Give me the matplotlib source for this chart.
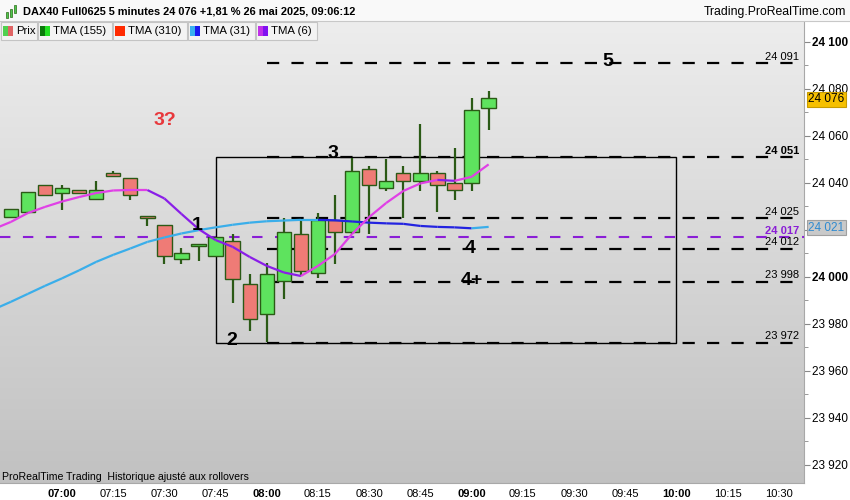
import numpy as np
import matplotlib
matplotlib.use('Agg')
import matplotlib.pyplot as plt
from matplotlib.patches import Rectangle
from matplotlib.collections import LineCollection
from matplotlib.colors import LinearSegmentedColormap

plt.rcParams['font.family'] = ['Liberation Sans', 'DejaVu Sans']

# 5 minute bars, time in minutes after 07:00
minutes = list(range(-15, 130, 5))
opens = [24025.7, 24027.8, 24039.0, 24035.9, 24036.9, 24033.1, 24044.1, 24042.0,
         24025.8, 24022.0, 24007.8, 24013.1, 24008.8, 24015.3, 23996.9, 23984.1,
         23998.2, 24018.2, 24001.8, 24024.3, 24019.0, 24045.8, 24037.7, 24044.1,
         24040.7, 24044.1, 24039.9, 24039.9, 24071.8]
highs = [24029.0, 24036.0, 24039.0, 24039.1, 24037.0, 24040.9, 24045.1, 24042.0,
         24025.8, 24022.0, 24012.2, 24013.9, 24016.9, 24018.3, 24001.3, 24005.8,
         24025.0, 24024.3, 24027.1, 24034.9, 24050.8, 24047.2, 24050.2, 24047.2,
         24065.1, 24045.1, 24054.8, 24076.0, 24079.1]
lows = [24025.5, 24027.8, 24034.8, 24028.5, 24035.8, 24033.1, 24042.9, 24032.9,
        24021.8, 24005.7, 24005.7, 24006.9, 24008.8, 23989.1, 23977.1, 23972.5,
        23990.6, 24000.4, 23999.7, 24005.7, 24018.2, 24018.2, 24036.7, 24025.0,
        24036.7, 24027.8, 24032.9, 24036.7, 24062.7]
closes = [24028.8, 24036.0, 24034.8, 24037.7, 24035.9, 24036.9, 24042.9, 24034.8,
          24025.0, 24008.8, 24010.1, 24013.9, 24016.9, 23999.0, 23982.0, 24001.1,
          24019.0, 24002.7, 24024.3, 24019.0, 24045.1, 24039.0, 24040.7, 24040.7,
          24044.1, 24039.0, 24036.9, 24070.9, 24076.0]

# moving averages
ma_minutes = list(range(-20, 130, 5))
tma6 = [24020.4, 24023.4, 24027.2, 24029.8, 24032.1, 24034.0, 24035.7, 24036.8,
        24037.0, 24037.0, 24033.4, 24026.8, 24020.4, 24015.7, 24012.8, 24008.5,
        24004.7, 24001.9, 24000.4, 24004.7, 24009.8, 24018.3, 24025.5, 24031.5,
        24036.6, 24039.8, 24041.3, 24040.9, 24042.6, 24047.9]
tma31 = [23986.2, 23989.4, 23992.8, 23996.2, 23999.4, 24002.8, 24006.4, 24009.4,
         24012.1, 24014.9, 24016.8, 24018.5, 24019.9, 24021.1, 24022.2, 24023.1,
         24023.7, 24024.0, 24024.3, 24024.3, 24024.1, 24023.6, 24023.1, 24022.8,
         24022.6, 24021.7, 24021.3, 24021.1, 24020.7, 24021.3]

levels = [24091, 24051, 24025, 24012, 23998, 23972]
level_bold = [False, True, False, False, False, False]
pivot = 24017
box_time = [45, 180]
box_price = [23972, 24051]

notes = ['1', '2', '3', '4', '4+', '5']
notes_t = [39.6, 49.8, 79.4, 119.5, 120.1, 159.9]
notes_p = [24021.8, 23972.8, 24052.4, 24011.9, 23998.3, 24091.5]

time_ticks = list(range(0, 211, 15))
time_labels = ['07:00', '07:15', '07:30', '07:45', '08:00', '08:15', '08:30', '08:45',
               '09:00', '09:15', '09:30', '09:45', '10:00', '10:15', '10:30']
price_ticks = list(range(23920, 24101, 20))
last_price = 24076
tma31_last = 24021


def fmt(v):
    return f"{int(v):,}".replace(',', ' ')


fig = plt.figure(figsize=(8.5, 5), dpi=100)
ax = fig.add_axes([0, 17 / 500, 804 / 850, 461 / 500])
x0, x1 = -18.17, 217.4
y0, y1 = 23912.3, 24108.5

bg = LinearSegmentedColormap.from_list('bg', ['#ededed', '#c1c1c1'])
ax.imshow(np.linspace(0, 1, 256).reshape(-1, 1), cmap=bg, extent=[x0, x1, y0, y1],
          aspect='auto', origin='upper', zorder=0)
ax.set_xlim(x0, x1)
ax.set_ylim(y0, y1)

# levels and box
ax.axhline(pivot, color='#8a1ed6', lw=1.5, ls=(0, (5, 6)), zorder=2)
ax.hlines(levels, 60, x1, colors='black', lw=1.6, linestyles=(0, (5.5, 5.5)), zorder=2)
ax.add_patch(Rectangle((box_time[0], box_price[0]), box_time[1] - box_time[0],
                       box_price[1] - box_price[0], fill=False, ec='black', lw=1, zorder=2))

# candles
o = np.array(opens)
c = np.array(closes)
up = c >= o
body_col = np.where(up, '#5ee35e', '#ef7b76')
heights = np.maximum(np.abs(c - o), 0.7)
ax.vlines(minutes, lows, highs, color='#2b5a16', lw=1.6, zorder=3)
ax.bar(minutes, heights, bottom=np.minimum(o, c), width=4.2, color=body_col,
       edgecolor='#2b5a16', linewidth=1, zorder=3)


def ma_line(vals, rise, fall):
    pts = np.column_stack([ma_minutes, vals])
    segs = np.stack([pts[:-1], pts[1:]], axis=1)
    cols = [rise if b >= a else fall for a, b in zip(vals[:-1], vals[1:])]
    ax.add_collection(LineCollection(segs, colors=cols, linewidths=1.6, zorder=4))


ma_line(tma31, '#3aaeea', '#2323e0')
ma_line(tma6, '#e040e6', '#8a1ee8')

for s, t, p in zip(notes, notes_t, notes_p):
    ax.text(t, p, s, ha='center', va='center', fontsize=14, fontweight='bold',
            color='black', zorder=6)
ax.text(30.2, 24066.4, '3?', ha='center', va='center', fontsize=14, fontweight='bold',
        color='#e8383c', zorder=6)

# level labels at the right edge
tr = ax.get_yaxis_transform()
for lv, b in zip(levels, level_bold):
    ax.text(0.9938, lv + 0.6, fmt(lv), transform=tr, ha='right', va='bottom',
            fontsize=8, fontweight='bold' if b else 'normal', zorder=6)
ax.text(0.9938, pivot + 0.6, fmt(pivot), transform=tr, ha='right', va='bottom',
        fontsize=8, fontweight='bold', color='#8a1ed6', zorder=6)

# axes
for s in ['top', 'left']:
    ax.spines[s].set_visible(False)
ax.spines['right'].set_color('#a8a8a8')
ax.spines['bottom'].set_color('#a8a8a8')
ax.yaxis.tick_right()
# the 24 020 label sits behind the TMA(31) price box
ax.set_yticks(price_ticks, ['' if v == 24020 else fmt(v) for v in price_ticks])
ax.set_yticks(list(range(23920, 24101, 10)), minor=True)
ax.tick_params(axis='y', which='both', length=4, color='#888888', labelsize=8.5, pad=2)
ax.tick_params(axis='y', which='minor', length=3)
for lab, v in zip(ax.get_yticklabels(), price_ticks):
    if v % 100 == 0:
        lab.set_fontweight('bold')
ax.set_xticks(time_ticks, time_labels)
ax.tick_params(axis='x', length=0, labelsize=8, pad=4)
for lab in ax.get_xticklabels():
    if lab.get_text().endswith(':00'):
        lab.set_fontweight('bold')

ax.text(1.005, last_price - 0.4, fmt(last_price), transform=tr, ha='left', va='center',
        fontsize=8.5, clip_on=False, zorder=8,
        bbox=dict(boxstyle='square,pad=0.12', fc='#f6c000', ec='#c89c00', lw=0.8))
ax.text(1.005, tma31_last, fmt(tma31_last), transform=tr, ha='left', va='center',
        fontsize=8.5, color='#2f8ad0', clip_on=False, zorder=8,
        bbox=dict(boxstyle='square,pad=0.12', fc='#c9c9c9', ec='#a0a0a0', lw=0.8))

ax.text(0.003, 0.003, 'ProRealTime Trading  Historique ajusté aux rollovers',
        transform=ax.transAxes, ha='left', va='bottom', fontsize=7.6, zorder=6)

# header bar and legend
hdr = fig.add_axes([0, 0, 1, 1], zorder=10)
hdr.set_xlim(0, 850)
hdr.set_ylim(500, 0)
hdr.axis('off')
hdr.patch.set_alpha(0)
hdr.add_patch(Rectangle((0, 0), 850, 21, fc='#f9f9f9', ec='none'))
hdr.plot([0, 850], [21, 21], color='#c8c8c8', lw=0.8)
for xx, yy, hh in [(6, 12, 6), (10, 9, 8), (14, 5, 8)]:
    hdr.add_patch(Rectangle((xx, yy), 2.5, hh, fc='#4cc84c', ec='#2b6a16', lw=0.5))
hdr.text(23, 11, 'DAX40 Full0625 5 minutes 24 076 +1,81 % 26 mai 2025, 09:06:12',
         ha='left', va='center', fontsize=7.9, fontweight='bold')
hdr.text(846, 12, 'Trading.ProRealTime.com', ha='right', va='center', fontsize=8.8)

legend_items = [
    (1, 37, 'Prix', '#4fd04f', '#e06464'),
    (38, 112, 'TMA (155)', '#0a7a0a', '#22e022'),
    (113, 187, 'TMA (310)', '#ff2a00', '#ff2a00'),
    (188, 255, 'TMA (31)', '#38b0f0', '#1a1af0'),
    (256, 317, 'TMA (6)', '#c030e8', '#8010f0'),
]
for a, b, lab, c1, c2 in legend_items:
    hdr.add_patch(Rectangle((a, 22), b - a, 18, fc='#f3f3f3', ec='#c4c4c4', lw=0.8))
    hdr.add_patch(Rectangle((a + 2, 25.5), 5, 10.5, fc=c1, ec='none'))
    hdr.add_patch(Rectangle((a + 7, 25.5), 5, 10.5, fc=c2, ec='none'))
    hdr.text(a + 15, 31, lab, ha='left', va='center', fontsize=8.2)

fig.savefig('out.png', dpi=100)
